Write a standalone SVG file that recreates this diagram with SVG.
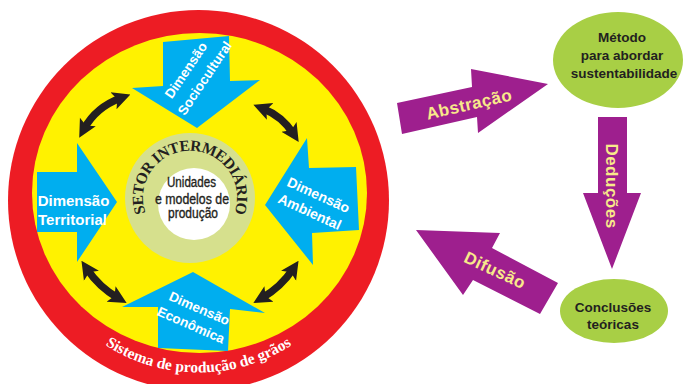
<svg xmlns="http://www.w3.org/2000/svg" width="683" height="384" viewBox="0 0 683 384">
<style>
.blue{fill:#00aeef}
.btxt{fill:#ffffff;font-family:"Liberation Sans",Arial,sans-serif;font-weight:bold;text-anchor:middle}
.purple{fill:#9e1f8e}
.ptxt{fill:#f8e98a;font-family:"Liberation Sans",Arial,sans-serif;font-weight:bold;text-anchor:middle;font-size:17px;letter-spacing:0.5px}
.ell{fill:#a8cf45}
.etxt{fill:#231f20;font-family:"Liberation Sans",Arial,sans-serif;font-weight:bold;text-anchor:middle;font-size:13.5px}
.dbl{fill:none;stroke:#231f20;stroke-width:7.5;marker-start:url(#bh);marker-end:url(#bh)}
.serif{font-family:"Liberation Serif","Times New Roman",serif;font-weight:bold}
.ctr{font-family:"Liberation Sans",Arial,sans-serif;font-size:14px;fill:#231f20;stroke:#231f20;stroke-width:0.35;text-anchor:middle}
</style>
<defs>
<marker id="bh" viewBox="0 -10 18 20" markerWidth="18" markerHeight="20" refX="8" refY="0" orient="auto-start-reverse" markerUnits="userSpaceOnUse">
<path d="M0,-9 L18,0 L0,9 L4,0 z" fill="#231f20"/>
</marker>
<path id="arcTop" d="M156.9,231.1 A47,47 0 1 1 223.1,231.1"/>
<path id="arcBot" d="M66.7,311 A172,172 0 0 0 330.3,311"/>
</defs>

<g id="sistema">
<circle cx="198.5" cy="200.5" r="190.5" fill="#ed1c24"/>
<ellipse cx="199.5" cy="193" rx="167.5" ry="160" fill="#fff200"/>
<text class="serif" font-size="15.5" fill="#ffffff"><textPath href="#arcBot" startOffset="50%" text-anchor="middle">Sistema de produção de grãos</textPath></text>
</g>

<g id="dim-sociocultural">
<polygon class="blue" points="163,42 229,36 230,81 260,80 197,128 132,88 163,86"/>
<g transform="translate(195,74) rotate(-56)">
<text class="btxt" font-size="13.5" x="-2" y="-5">Dimensão</text>
<text class="btxt" font-size="13.5" x="2" y="15">Sociocultural</text>
</g>
</g>

<g id="dim-territorial">
<polygon class="blue" points="37,172 77,172 77,143 117,202 77,262 77,232 37,232"/>
<text class="btxt" font-size="15" x="73.5" y="206">Dimensão</text>
<text class="btxt" font-size="15" x="72.5" y="225">Territorial</text>
</g>

<g id="dim-ambiental">
<polygon class="blue" points="265,205 307,138 309,168 356,167 359,230 312,233 313,265"/>
<g transform="translate(313.7,203) rotate(24.5)">
<text class="btxt" font-size="14" x="1" y="-4.5">Dimensão</text>
<text class="btxt" font-size="14" x="0" y="14.5">Ambiental</text>
</g>
</g>

<g id="dim-economica">
<polygon class="blue" points="193,272 265,313 230,309 228,351 158,348 158,307 122,307"/>
<g transform="translate(195,316) rotate(23.5)">
<text class="btxt" font-size="13.5" x="1" y="-4">Dimensão</text>
<text class="btxt" font-size="13.5" x="0" y="14.5">Econômica</text>
</g>
</g>

<g id="setor">
<circle cx="190" cy="198" r="65" fill="#d6e08d"/>
<circle cx="194" cy="204" r="36" fill="#ffffff"/>
<text class="serif" font-size="15.5" letter-spacing="-0.5" fill="#231f20"><textPath href="#arcTop" startOffset="50%" text-anchor="middle">SETOR INTERMEDIÁRIO</textPath></text>
<text class="ctr" x="191.5" y="187" textLength="49" lengthAdjust="spacingAndGlyphs">Unidades</text>
<text class="ctr" x="192" y="203.5" textLength="74" lengthAdjust="spacingAndGlyphs">e modelos de</text>
<text class="ctr" x="193" y="218" textLength="50" lengthAdjust="spacingAndGlyphs">produção</text>
</g>

<g id="metodo">
<ellipse class="ell" cx="618" cy="60" rx="65" ry="48"/>
<text class="etxt" x="622" y="42">Método</text>
<text class="etxt" x="622" y="60">para abordar</text>
<text class="etxt" x="624" y="78">sustentabilidade</text>
</g>

<g id="conclusoes">
<ellipse class="ell" cx="614" cy="311" rx="54" ry="32"/>
<text class="etxt" x="613" y="312">Conclusões</text>
<text class="etxt" x="613" y="329">teóricas</text>
</g>

<g id="connectors">
<path class="dbl" d="M84,129 Q96,107 121,98"/>
<path class="dbl" d="M262.7,108.4 Q282,116 293.3,133.6"/>
<path class="dbl" d="M87,269 Q99,287 118,298"/>
<path class="dbl" d="M262,298 Q281,287 293,269"/>
<g id="abstracao">
<polygon class="purple" points="397,103 472,87 471,69 548,84 478,133 477,117 402,134"/>
<text class="ptxt" transform="translate(469,104) rotate(-13)" x="0" y="6">Abstração</text>
</g>
<g id="deducoes">
<polygon class="purple" points="598,117 627,117 627,193 641,193 612,269 583,193 598,193"/>
<text class="ptxt" transform="translate(612,186) rotate(90)" x="0" y="6">Deduções</text>
</g>
<g id="difusao">
<polygon class="purple" points="416,230 500,233 492,248 558,283 540,314 473,280 463,295"/>
<text class="ptxt" transform="translate(495,270) rotate(25)" x="0" y="6">Difusão</text>
</g>
</g>
</svg>
